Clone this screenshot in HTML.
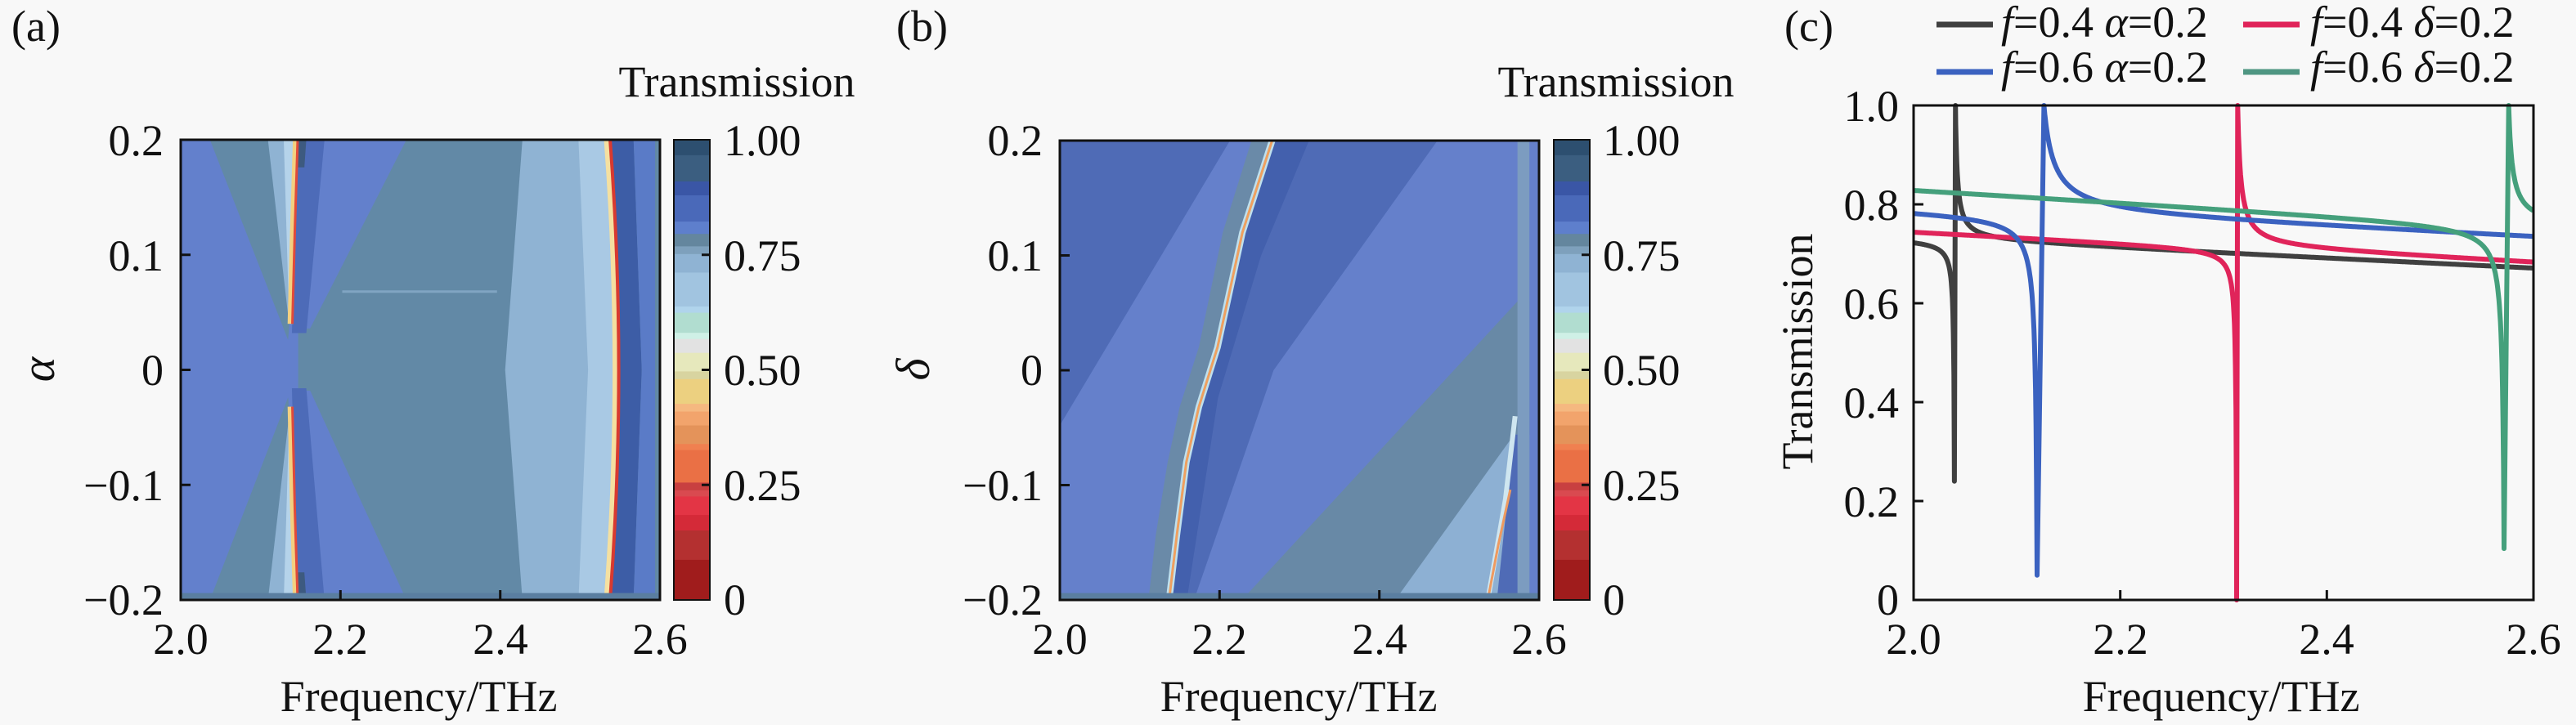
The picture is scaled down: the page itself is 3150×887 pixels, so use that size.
<!DOCTYPE html>
<html><head><meta charset="utf-8">
<style>
html,body{margin:0;padding:0;background:#f8f8f8;}
svg{display:block;}
text{font-family:"Liberation Serif","DejaVu Serif",serif;fill:#111;}
</style></head>
<body>
<svg id="root" width="3150" height="887" viewBox="0 0 3150 887" xmlns="http://www.w3.org/2000/svg">
<rect width="3150" height="887" fill="#f8f8f8"/>

<!-- ============ PANEL A ============ -->
<svg x="221" y="171" width="586" height="563" viewBox="0 0 1000 1000" preserveAspectRatio="none">
  <rect width="1000" height="1000" fill="#6289a6"/>
  <polygon points="0,0 245,0 245,1000 0,1000" fill="#6380cc"/>
  <polygon points="61,0 240,0 235,300 224,435" fill="#6289a6"/>
  <polygon points="61,1000 240,1000 235,700 224,560" fill="#6289a6"/>
  <polygon points="182,0 240,0 232,300 225,390" fill="#8fb3d3"/>
  <polygon points="182,1000 240,1000 232,700 225,610" fill="#8fb3d3"/>
  <polygon points="215,0 240,0 232,300 226,380" fill="#b5d3ea"/>
  <polygon points="215,1000 240,1000 232,700 226,620" fill="#b5d3ea"/>
  <polygon points="244,0 471,0 270,410 232,410" fill="#6380cc"/>
  <polygon points="244,1000 471,1000 270,545 232,545" fill="#6380cc"/>
  <polygon points="244,0 300,0 262,420 232,420" fill="#4d6bb8"/>
  <polygon points="244,1000 300,1000 262,540 232,540" fill="#4d6bb8"/>
  <polygon points="246,0 262,0 258,60 244,60" fill="#3d5a80"/>
  <polygon points="246,1000 262,1000 258,940 244,940" fill="#3d5a80"/>
  <polygon points="713,0 893,0 912,500 893,1000 713,1000 677,500" fill="#8fb3d3"/>
  <polygon points="830,0 893,0 912,500 893,1000 830,1000 850,500" fill="#a9c9e4"/>
  <polygon points="898,0 945,0 962,500 945,1000 898,1000 915,500" fill="#3d5da6"/>
  <polygon points="945,0 990,0 990,1000 945,1000 962,500" fill="#5a7bc7"/>
  <rect x="990" width="10" height="1000" fill="#6289a6"/>
  <line x1="337" y1="330" x2="660" y2="330" stroke="#80a4c2" stroke-width="3" vector-effect="non-scaling-stroke"/>
  <polyline points="240,0 234,200 229,400" fill="none" stroke="#f3d080" stroke-width="7" vector-effect="non-scaling-stroke"/>
  <polyline points="229,580 234,800 240,1000" fill="none" stroke="#f3d080" stroke-width="7" vector-effect="non-scaling-stroke"/>
  <polyline points="244,0 238,200 233,400" fill="none" stroke="#e04a3a" stroke-width="3" vector-effect="non-scaling-stroke"/>
  <polyline points="233,580 238,800 244,1000" fill="none" stroke="#e04a3a" stroke-width="3" vector-effect="non-scaling-stroke"/>
  <path d="M890,0 Q926,500 890,1000" fill="none" stroke="#f5e0a0" stroke-width="8" vector-effect="non-scaling-stroke"/>
  <path d="M896,0 Q932,500 896,1000" fill="none" stroke="#d83a30" stroke-width="4" vector-effect="non-scaling-stroke"/>
  <rect x="0" y="985" width="1000" height="15" fill="#5a7ea0"/>
</svg>
<rect x="221" y="171" width="586" height="563" fill="none" stroke="#111" stroke-width="3"/>
<g stroke="#111" stroke-width="3">
  <line x1="221" y1="311.75" x2="233" y2="311.75"/><line x1="221" y1="452.5" x2="233" y2="452.5"/><line x1="221" y1="593.25" x2="233" y2="593.25"/>
  <line x1="416.3" y1="734" x2="416.3" y2="722"/><line x1="611.7" y1="734" x2="611.7" y2="722"/>
</g>
<g font-size="54" text-anchor="end">
  <text x="200" y="190">0.2</text><text x="200" y="331">0.1</text><text x="200" y="471">0</text><text x="200" y="612">−0.1</text><text x="200" y="752">−0.2</text>
</g>
<g font-size="54" text-anchor="middle">
  <text x="221" y="800">2.0</text><text x="416" y="800">2.2</text><text x="612" y="800">2.4</text><text x="807" y="800">2.6</text>
  <text x="512" y="870">Frequency/THz</text>
  <text x="901" y="118">Transmission</text>
</g>
<text x="14" y="50" font-size="54">(a)</text>
<text x="0" y="0" font-size="58" font-style="italic" text-anchor="middle" transform="translate(66,452) rotate(-90)">α</text>

<!-- colorbar A -->
<g id="cbA"></g>
<g font-size="54">
  <text x="885" y="190">1.00</text><text x="885" y="331">0.75</text><text x="885" y="471">0.50</text><text x="885" y="612">0.25</text><text x="885" y="752">0</text>
</g>

<!-- ============ PANEL B ============ -->
<svg x="1296" y="172" width="586" height="562" viewBox="0 0 1000 1000" preserveAspectRatio="none">
  <rect width="1000" height="1000" fill="#6580cb"/>
  <polygon points="0,0 355,0 0,620" fill="#4f6bb6"/>
  <polygon points="400,0 443,0 381,200 329,450 290,580 264,700 244,860 228,1000 185,1000 200,860 225,700 250,580 290,450 340,200" fill="#6a8aa8"/>
  <polygon points="443,0 788,0 446,500 280,1000 228,1000 244,860 264,700 290,580 329,450 381,200" fill="#4f6bb6"/>
  <polygon points="443,0 520,0 420,250 330,560 265,1000 228,1000 244,860 264,700 290,580 329,450 381,200" fill="#4360ad"/>
  <polygon points="955,350 1000,350 1000,1000 380,1000" fill="#6889a6"/>
  <polygon points="948,640 980,640 980,1000 700,1000" fill="#8db0d3"/>
  <polygon points="948,640 975,640 975,1000 912,1000" fill="#4f6bb6"/>
  <rect x="955" y="0" width="25" height="1000" fill="#7c9cc0"/>
  <rect x="980" y="0" width="20" height="1000" fill="#6580cb"/>
  <polyline points="443,0 381,200 329,450 290,580 264,700 244,860 228,1000" fill="none" stroke="#bfe0ee" stroke-width="8" vector-effect="non-scaling-stroke"/>
  <polyline points="443,0 381,200 329,450 290,580 264,700 244,860 228,1000" fill="none" stroke="#eea060" stroke-width="3" vector-effect="non-scaling-stroke"/>
  <polyline points="950,600 930,780 893,1000" fill="none" stroke="#cfe6f0" stroke-width="6" vector-effect="non-scaling-stroke"/>
  <polyline points="940,760 915,880 893,1000" fill="none" stroke="#ee9a60" stroke-width="3" vector-effect="non-scaling-stroke"/>
  <rect x="0" y="985" width="1000" height="15" fill="#5a7ea0"/>
</svg>
<rect x="1296" y="172" width="586" height="562" fill="none" stroke="#111" stroke-width="3"/>
<g stroke="#111" stroke-width="3">
  <line x1="1296" y1="312.5" x2="1308" y2="312.5"/><line x1="1296" y1="453" x2="1308" y2="453"/><line x1="1296" y1="593.5" x2="1308" y2="593.5"/>
  <line x1="1491.3" y1="734" x2="1491.3" y2="722"/><line x1="1686.7" y1="734" x2="1686.7" y2="722"/>
</g>
<g font-size="54" text-anchor="end">
  <text x="1275" y="190">0.2</text><text x="1275" y="331">0.1</text><text x="1275" y="471">0</text><text x="1275" y="612">−0.1</text><text x="1275" y="752">−0.2</text>
</g>
<g font-size="54" text-anchor="middle">
  <text x="1296" y="800">2.0</text><text x="1491" y="800">2.2</text><text x="1687" y="800">2.4</text><text x="1882" y="800">2.6</text>
  <text x="1588" y="870">Frequency/THz</text>
  <text x="1976" y="118">Transmission</text>
</g>
<text x="1096" y="50" font-size="54">(b)</text>
<text x="0" y="0" font-size="58" font-style="italic" text-anchor="middle" transform="translate(1136,452) rotate(-90)">δ</text>
<g id="cbB"></g>
<g font-size="54">
  <text x="1960" y="190">1.00</text><text x="1960" y="331">0.75</text><text x="1960" y="471">0.50</text><text x="1960" y="612">0.25</text><text x="1960" y="752">0</text>
</g>

<!-- ============ PANEL C ============ -->
<g id="curves"></g>
<rect x="2340" y="129" width="758" height="605" fill="none" stroke="#111" stroke-width="3"/>
<g stroke="#111" stroke-width="3">
  <line x1="2340" y1="250" x2="2352" y2="250"/><line x1="2340" y1="371" x2="2352" y2="371"/><line x1="2340" y1="492" x2="2352" y2="492"/><line x1="2340" y1="613" x2="2352" y2="613"/>
  <line x1="2592.7" y1="734" x2="2592.7" y2="722"/><line x1="2845.3" y1="734" x2="2845.3" y2="722"/>
</g>
<g font-size="54" text-anchor="end">
  <text x="2322" y="148">1.0</text><text x="2322" y="269">0.8</text><text x="2322" y="390">0.6</text><text x="2322" y="511">0.4</text><text x="2322" y="632">0.2</text><text x="2322" y="752">0</text>
</g>
<g font-size="54" text-anchor="middle">
  <text x="2340" y="800">2.0</text><text x="2593" y="800">2.2</text><text x="2845" y="800">2.4</text><text x="3098" y="800">2.6</text>
  <text x="2716" y="870">Frequency/THz</text>
</g>
<text x="0" y="0" font-size="54" text-anchor="middle" transform="translate(2216,430) rotate(-90)">Transmission</text>
<text x="2182" y="50" font-size="54">(c)</text>
<!-- legend -->
<g stroke-width="7">
  <line x1="2368" y1="30" x2="2437" y2="30" stroke="#404040"/>
  <line x1="2743" y1="30" x2="2812" y2="30" stroke="#e0245a"/>
  <line x1="2368" y1="88" x2="2437" y2="88" stroke="#3b62c0"/>
  <line x1="2743" y1="88" x2="2812" y2="88" stroke="#4f9682"/>
</g>
<g font-size="54">
  <text x="2447" y="45"><tspan font-style="italic">f</tspan>=0.4 <tspan font-style="italic">α</tspan>=0.2</text>
  <text x="2825" y="45"><tspan font-style="italic">f</tspan>=0.4 <tspan font-style="italic">δ</tspan>=0.2</text>
  <text x="2447" y="100"><tspan font-style="italic">f</tspan>=0.6 <tspan font-style="italic">α</tspan>=0.2</text>
  <text x="2825" y="100"><tspan font-style="italic">f</tspan>=0.6 <tspan font-style="italic">δ</tspan>=0.2</text>
</g>
</svg>
<script>
(function(){
var NS="http://www.w3.org/2000/svg";
function el(p,t,a){var e=document.createElementNS(NS,t);for(var k in a)e.setAttribute(k,a[k]);p.appendChild(e);return e;}
var steps=[[35,85,"#2d4f70"],[85,170,"#3b5e80"],[170,215,"#3a56a6"],[215,300,"#4a69b9"],[300,340,"#5e7fcc"],[340,380,"#64869e"],[380,405,"#7ea0bc"],[405,465,"#8fb3d3"],[465,575,"#a1c4e0"],[575,595,"#b0d4ec"],[595,660,"#b1ddd0"],[660,680,"#cff0e6"],[680,725,"#e2e2e2"],[725,785,"#e6e8bc"],[785,810,"#d8d4a0"],[810,890,"#ecd080"],[890,915,"#f5b880"],[915,960,"#f2a46c"],[960,1020,"#e4935a"],[1020,1040,"#f08050"],[1040,1145,"#ea7045"],[1145,1170,"#c84040"],[1170,1190,"#d94a50"],[1190,1250,"#e33545"],[1250,1300,"#d42a38"],[1300,1395,"#b43030"],[1395,1525,"#a01c1c"]];
function cb(id,x){var g=document.getElementById(id);var y0=171,h=563,w=44;
 steps.forEach(function(s){var a=(s[0]-35)/1490,b=(s[1]-35)/1490;el(g,"rect",{x:x,y:(y0+a*h).toFixed(1),width:w,height:((b-a)*h+0.8).toFixed(1),fill:s[2]});});
 el(g,"rect",{x:x,y:y0,width:w,height:h,fill:"none",stroke:"#111","stroke-width":2});
 [0.25,0.5,0.75].forEach(function(f){var y=y0+f*h;el(g,"line",{x1:x+w-10,y1:y,x2:x+w,y2:y,stroke:"#111","stroke-width":3});});
}
cb("cbA",824);cb("cbB",1900);
var X=function(f){return 2340+(f-2)/0.6*758;},Y=function(t){return 734-t*605;};
var cs=[
 {c:"#404040",b0:.73,b1:.67,fd:2.0395,fp:2.0405,dm:.24,wl:.00063,wr:.0018},
 {c:"#e0245a",b0:.745,b1:.68,fd:2.3127,fp:2.3137,dm:0,wl:.0006,wr:.003},
 {c:"#3b62c0",b0:.79,b1:.73,fd:2.1195,fp:2.1262,dm:.05,wl:.0014,wr:.0093},
 {c:"#45a07c",b0:.83,b1:.755,fd:2.5715,fp:2.576,dm:.104,wl:.0015,wr:.0036}
];
var g=document.getElementById("curves");
cs.forEach(function(p){
 var pts=[];function b(f){return p.b0+(p.b1-p.b0)*(f-2)/0.6;}
 for(var f=2;f<p.fd;f+=0.0005){var d=p.fd-f;var t=b(f)-(b(f)-p.dm)*p.wl/(d+p.wl);pts.push(X(f).toFixed(1)+","+Y(t).toFixed(1));}
 pts.push(X(p.fd).toFixed(1)+","+Y(p.dm).toFixed(1));
 pts.push(X(p.fp).toFixed(1)+","+Y(1).toFixed(1));
 for(var f=p.fp+0.0003;f<=2.6;f+=0.0005){var d=f-p.fp;var t=b(f)+(1-b(f))*p.wr/(d+p.wr);pts.push(X(f).toFixed(1)+","+Y(t).toFixed(1));}
 el(g,"polyline",{points:pts.join(" "),fill:"none",stroke:p.c,"stroke-width":6,"stroke-linejoin":"round"});
});
})();
</script>
</body></html>
